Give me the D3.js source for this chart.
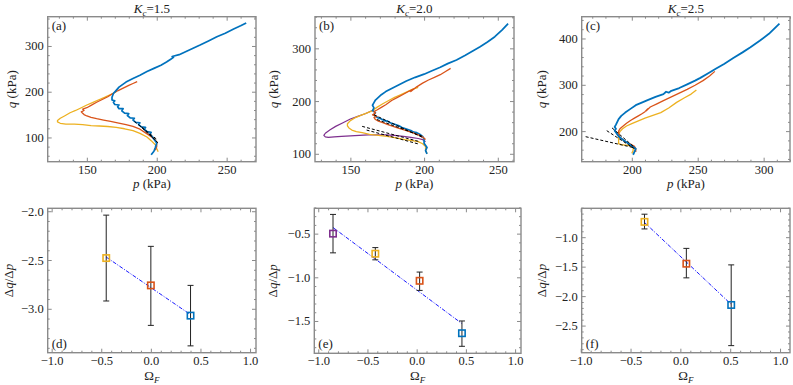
<!DOCTYPE html>
<html>
<head>
<meta charset="utf-8">
<script src="https://cdn.jsdelivr.net/npm/d3@7"></script>
<style>
  body { margin: 0; background: #fff; }
  svg text { font-family: "Liberation Serif", "DejaVu Serif", serif; }
</style>
</head>
<body>
<div id="chart"></div>
<script>
// ---- stress paths (p, q) in kPa ----
const aBlue = [[196,62],[198,70],[199,78],[200,88],[198,96],[197,101],[195,107],[196,111],[193,113],[191,118],[192,122],[189,123],[187,128],[188,132],[185,133],[183,138],[184,142],[181,143],[179,148],[180,152],[177,153],[175,158],[176,163],[173,163],[172,167],[173,171],[170,172],[169,177],[170,180],[168,182],[168,188],[169,196],[171,203],[173,210],[178,221],[183,229],[188,236],[193,244],[198,251],[203,258],[207,265],[210,271],[212,275],[211,277],[216,281],[221,288],[226,295],[231,302],[237,311],[243,320],[249,328],[255,337],[260,344],[264,350]]
const aOrange = [[199,72],[200,80],[200,90],[198,97],[195,104],[192,110],[188,118],[183,124],[178,128],[172,132],[167,135],[162,138],[157,141],[153,144],[150,147],[148,150],[147,153],[146,156],[148,159],[147,162],[150,165],[153,170],[157,177],[161,183],[165,189],[168,195],[172,202],[176,208],[180,214],[183,218],[186,222]]
const aYellow = [[201,69],[200,76],[199,84],[196,93],[193,101],[188,109],[183,115],[177,119],[171,122],[165,124],[159,125],[153,126],[147,128],[141,129],[135,129],[131,131],[129,134],[129,137],[131,142],[134,147],[138,154],[142,159],[146,165],[150,171],[154,176],[159,183],[163,188],[167,194],[171,200]]
const aFits = [[[184,135],[200,96]], [[187,128],[200,92]], [[189,123],[201,88]]]

const bBlue = [[202,100],[201,106],[202,112],[200,120],[200,128],[199,133],[197,137],[195,140],[193,141],[191,144],[189,146],[187,148],[185,150],[183,153],[181,155],[179,157],[177,159],[175,162],[173,163],[171,166],[169,168],[167,171],[166,174],[167,178],[165,182],[166,187],[165,192],[166,197],[167,202],[169,207],[171,212],[174,218],[178,224],[183,231],[188,238],[194,245],[200,251],[205,257],[211,264],[216,271],[222,278],[228,287],[233,295],[238,303],[243,312],[248,322],[253,335],[257,347]]
const bOrange = [[201,127],[199,132],[196,136],[193,139],[190,142],[187,145],[183,148],[179,152],[175,156],[172,159],[169,162],[167,165],[166,169],[168,171],[165,174],[167,177],[166,180],[168,183],[171,188],[174,193],[178,201],[182,207],[186,213],[190,219],[193,223],[191,218],[195,227],[199,234],[203,240],[207,245],[211,250],[214,255],[218,262]]
const bYellow = [[202,100],[201,107],[201,114],[199,119],[196,123],[192,125],[187,127],[181,130],[175,133],[169,135],[163,137],[158,140],[154,142],[151,145],[149,149],[148,153],[148,157],[150,163],[153,168],[157,173],[161,177],[165,182],[168,188],[172,195],[176,201],[180,207],[184,212],[188,217],[192,222],[196,226]]
const bPurple = [[201,123],[199,127],[196,129],[191,131],[186,133],[180,135],[174,136],[168,136],[162,136],[156,135],[150,134],[144,133],[139,132],[135,131],[133,132],[132,135],[133,139],[136,145],[140,152],[145,159],[150,166],[155,171],[160,176],[165,182]]
const bFits = [[[158,152],[197,123]], [[161,145],[197,118]], [[166,174],[199,131]], [[168,165],[199,133]]]

const cBlue = [[201,149],[202,155],[203,162],[200,168],[198,172],[196,176],[194,180],[192,184],[190,189],[189,193],[188,197],[187,201],[188,205],[187,209],[188,214],[189,220],[190,226],[192,233],[195,240],[199,248],[203,256],[208,262],[212,267],[218,274],[224,280],[226,285],[228,283],[230,287],[236,293],[242,301],[248,309],[252,315],[258,325],[264,335],[270,345],[277,358],[284,370],[290,381],[297,395],[304,410],[312,432]]
const cOrange = [[203,155],[203,162],[202,167],[199,172],[196,176],[193,182],[191,187],[190,193],[190,200],[191,205],[193,210],[196,217],[199,223],[202,228],[205,233],[208,238],[210,242],[212,248],[211,244],[214,252],[219,259],[224,266],[230,274],[236,282],[242,290],[248,299],[254,309],[259,319],[263,329]]
const cYellow = [[200,152],[201,158],[201,165],[198,169],[195,170],[192,171],[190,173],[190,178],[190,185],[190,192],[191,199],[193,205],[196,211],[200,216],[205,222],[210,228],[216,234],[222,240],[228,250],[234,262],[240,272],[245,280],[249,289]]
const cFits = [[[165,188],[202,164]], [[181,201],[202,162]], [[185,207],[202,165]]]

// ---- slopes dq/dp vs Omega_F ----
const dOmega = [-0.45, 0.0, 0.40]
const dSlope = [-2.48, -2.76, -3.07]
const dErrHi = [-2.04, -2.36, -2.76]
const dErrLo = [-2.92, -3.17, -3.38]
const dFit = [[-0.45, -2.47], [0.40, -3.06]]

const eOmega = [-0.85, -0.42, 0.03, 0.46]
const eSlope = [-0.50, -0.73, -1.04, -1.64]
const eErrHi = [-0.28, -0.66, -0.94, -1.50]
const eErrLo = [-0.72, -0.80, -1.15, -1.79]
const eFit = [[-0.85, -0.43], [0.46, -1.53]]

const fOmega = [-0.36, 0.06, 0.51]
const fSlope = [-0.74, -1.45, -2.15]
const fErrHi = [-0.61, -1.19, -1.47]
const fErrLo = [-0.86, -1.69, -2.84]
const fFit = [[-0.36, -0.75], [0.51, -2.14]]

const blue = '#0072bd', orange = '#d95319', yellow = '#edb120', purple = '#7e2f8e'
const axisGrey = '#8a8a8a'

const svg = d3.select('#chart').append('svg')
  .attr('width', 793)
  .attr('height', 385)

function panel (box, xDomain, yDomain) {
  const g = svg.append('g').attr('transform', 'translate(' + [box.l, box.t] + ')')
  const x = d3.scaleLinear().domain(xDomain).range([0, box.r - box.l])
  const y = d3.scaleLinear().domain(yDomain).range([box.b - box.t, 0])
  return { g, x, y, w: box.r - box.l, h: box.b - box.t }
}

function axes (P, o) {
  const { g, x, y, w, h } = P
  const add = (axis, tr) => {
    const a = g.append('g').attr('transform', tr || null).call(axis)
    a.select('.domain').remove()
    a.attr('font-family', null).attr('font-size', 12.5)
    a.selectAll('line').attr('stroke', axisGrey)
    a.selectAll('text').attr('fill', '#222')
    return a
  }
  add(d3.axisBottom(x).tickValues(o.xMajor).tickSize(-4).tickPadding(3).tickFormat(o.xFmt), 'translate(0,' + h + ')')
  add(d3.axisBottom(x).tickValues(o.xMinor).tickSize(-2).tickFormat(''), 'translate(0,' + h + ')')
  add(d3.axisTop(x).tickValues(o.xMajor).tickSize(-4).tickFormat(''))
  add(d3.axisTop(x).tickValues(o.xMinor).tickSize(-2).tickFormat(''))
  add(d3.axisLeft(y).tickValues(o.yMajor).tickSize(-4).tickPadding(4).tickFormat(o.yFmt))
  add(d3.axisLeft(y).tickValues(o.yMinor).tickSize(-2).tickFormat(''))
  add(d3.axisRight(y).tickValues(o.yMajor).tickSize(-4).tickFormat(''), 'translate(' + w + ',0)')
  add(d3.axisRight(y).tickValues(o.yMinor).tickSize(-2).tickFormat(''), 'translate(' + w + ',0)')
  g.append('rect').attr('width', w).attr('height', h)
    .attr('fill', 'none').attr('stroke', axisGrey).attr('stroke-width', 1.4)
}

function minor (lo, hi, step, majors) {
  return d3.range(lo, hi + step / 2, step).map(v => +v.toFixed(2))
    .filter(v => !majors.some(m => Math.abs(m - v) < 1e-6))
}

function tag (P, label, bottom) {
  P.g.append('text').attr('x', 4).attr('y', bottom ? P.h - 5 : 13)
    .attr('font-size', 13).attr('fill', '#222').text(label)
}

// parts: {t, i: italic, dy: shift, s: font size}
function richLabel (parent, parts, attrs) {
  const t = parent.append('text').attr('font-size', 13).attr('fill', '#222').attr('text-anchor', 'middle')
  Object.keys(attrs).forEach(k => t.attr(k, attrs[k]))
  parts.forEach(p => {
    const s = t.append('tspan').text(p.t)
    if (p.i) s.attr('font-style', 'italic')
    if (p.dy) s.attr('dy', p.dy)
    if (p.s) s.attr('font-size', p.s)
  })
  return t
}

const line = (P) => d3.line().x(d => P.x(d[0])).y(d => P.y(d[1]))

// ---------- top row ----------
const topBoxes = [
  { l: 47.7, r: 256, t: 16.7, b: 161.7 },
  { l: 315, r: 514, t: 16.7, b: 161.7 },
  { l: 581.7, r: 790, t: 16.7, b: 161.7 }
]
const topSpecs = [
  { xd: [122, 271], yd: [47, 364], xMajor: [150, 200, 250], yMajor: [100, 200, 300],
    paths: [[aYellow, yellow, 1.3], [aOrange, orange, 1.3], [aBlue, blue, 1.7]], fits: aFits,
    title: '=1.5', tag: '(a)', ylab: 12.5 },
  { xd: [126, 261], yd: [85, 360], xMajor: [150, 200, 250], yMajor: [100, 200, 300],
    paths: [[bPurple, purple, 1.2], [bYellow, yellow, 1.3], [bBlue, blue, 1.7], [bOrange, orange, 1.3]], fits: bFits,
    title: '=2.0', tag: '(b)', ylab: 274 },
  { xd: [162, 320], yd: [134, 447], xMajor: [200, 250, 300], yMajor: [200, 300, 400],
    paths: [[cYellow, yellow, 1.3], [cOrange, orange, 1.3], [cBlue, blue, 1.8]], fits: cFits,
    title: '=2.5', tag: '(c)', ylab: 542 }
]

topSpecs.forEach((s, i) => {
  const box = topBoxes[i]
  const P = panel(box, s.xd, s.yd)
  s.paths.forEach(([data, color, sw]) => {
    P.g.append('path').datum(data)
      .attr('d', line(P)).attr('fill', 'none')
      .attr('stroke', color).attr('stroke-width', sw).attr('stroke-linejoin', 'round')
  })
  P.g.selectAll('path.fit').data(s.fits).enter().append('path').attr('class', 'fit')
    .attr('d', line(P)).attr('fill', 'none').attr('stroke', '#000')
    .attr('stroke-width', 1).attr('stroke-dasharray', '3,2')
  axes(P, {
    xMajor: s.xMajor, xMinor: minor(Math.ceil(s.xd[0] / 10) * 10, s.xd[1], 10, s.xMajor), xFmt: d3.format('d'),
    yMajor: s.yMajor, yMinor: minor(Math.ceil(s.yd[0] / 20) * 20, s.yd[1], 20, s.yMajor), yFmt: d3.format('d')
  })
  tag(P, s.tag, false)
  const cx = (box.l + box.r) / 2
  richLabel(svg, [{ t: 'K', i: true }, { t: 'c', i: true, dy: 3, s: 9 }, { t: s.title, dy: -3 }], { x: cx, y: 12.5 })
  richLabel(svg, [{ t: 'p', i: true }, { t: ' (kPa)' }], { x: cx, y: 188 })
  richLabel(svg, [{ t: 'q', i: true }, { t: ' (kPa)' }],
    { transform: 'translate(' + s.ylab + ',' + (box.t + box.b) / 2 + ') rotate(-90)', dy: '0.3em' })
})

// ---------- bottom row ----------
const botBoxes = [
  { l: 47.7, r: 256, t: 208.3, b: 352.7 },
  { l: 314.3, r: 521, t: 208.3, b: 353.3 },
  { l: 581.7, r: 790, t: 208.3, b: 352.7 }
]
const botSpecs = [
  { xd: [-1.04, 1.06], yd: [-3.45, -1.97], yMajor: [-3.0, -2.5, -2.0], om: dOmega, sl: dSlope, hi: dErrHi, lo: dErrLo, fit: dFit,
    colors: [yellow, orange, blue], tag: '(d)', ylab: 9 },
  { xd: [-1.04, 1.06], yd: [-1.87, -0.21], yMajor: [-1.5, -1.0, -0.5], om: eOmega, sl: eSlope, hi: eErrHi, lo: eErrLo, fit: eFit,
    colors: [purple, yellow, orange, blue], tag: '(e)', ylab: 273 },
  { xd: [-0.99, 1.1], yd: [-2.96, -0.51], yMajor: [-2.5, -2.0, -1.5, -1.0], om: fOmega, sl: fSlope, hi: fErrHi, lo: fErrLo, fit: fFit,
    colors: [yellow, orange, blue], tag: '(f)', ylab: 542 }
]
const xMajorB = [-1, -0.5, 0, 0.5, 1]

botSpecs.forEach((s, i) => {
  const box = botBoxes[i]
  const P = panel(box, s.xd, s.yd)
  const pts = s.om.map((o, k) => ({ o, v: s.sl[k], hi: s.hi[k], lo: s.lo[k], c: s.colors[k] }))

  P.g.append('path').datum(s.fit).attr('d', line(P))
    .attr('fill', 'none').attr('stroke', '#1a1aff').attr('stroke-width', 1)
    .attr('stroke-dasharray', '4,1.5,1,1.5')

  const eb = P.g.selectAll('g.eb').data(pts).enter().append('g').attr('class', 'eb')
  eb.append('line').attr('x1', d => P.x(d.o)).attr('x2', d => P.x(d.o))
    .attr('y1', d => P.y(d.hi)).attr('y2', d => P.y(d.lo)).attr('stroke', '#222').attr('stroke-width', 1)
  ;['hi', 'lo'].forEach(key => {
    eb.append('line').attr('x1', d => P.x(d.o) - 3).attr('x2', d => P.x(d.o) + 3)
      .attr('y1', d => P.y(d[key])).attr('y2', d => P.y(d[key])).attr('stroke', '#222').attr('stroke-width', 1)
  })
  eb.append('rect').attr('x', d => P.x(d.o) - 3.2).attr('y', d => P.y(d.v) - 3.2)
    .attr('width', 6.4).attr('height', 6.4).attr('fill', 'none')
    .attr('stroke', d => d.c).attr('stroke-width', 1.6)

  axes(P, {
    xMajor: xMajorB, xMinor: minor(-1, 1.1, 0.1, xMajorB).filter(v => v > s.xd[0] && v < s.xd[1]), xFmt: d3.format('.1f'),
    yMajor: s.yMajor, yMinor: minor(Math.ceil(s.yd[0] * 10) / 10, s.yd[1], 0.1, s.yMajor), yFmt: d3.format('.1f')
  })
  tag(P, s.tag, true)
  const cx = (box.l + box.r) / 2
  richLabel(svg, [{ t: 'Ω' }, { t: 'F', i: true, dy: 3, s: 9 }], { x: cx, y: 380 })
  richLabel(svg, [{ t: 'Δ' }, { t: 'q', i: true }, { t: '/Δ' }, { t: 'p', i: true }],
    { transform: 'translate(' + s.ylab + ',' + (box.t + box.b) / 2 + ') rotate(-90)', dy: '0.3em' })
})
</script>
</body>
</html>
